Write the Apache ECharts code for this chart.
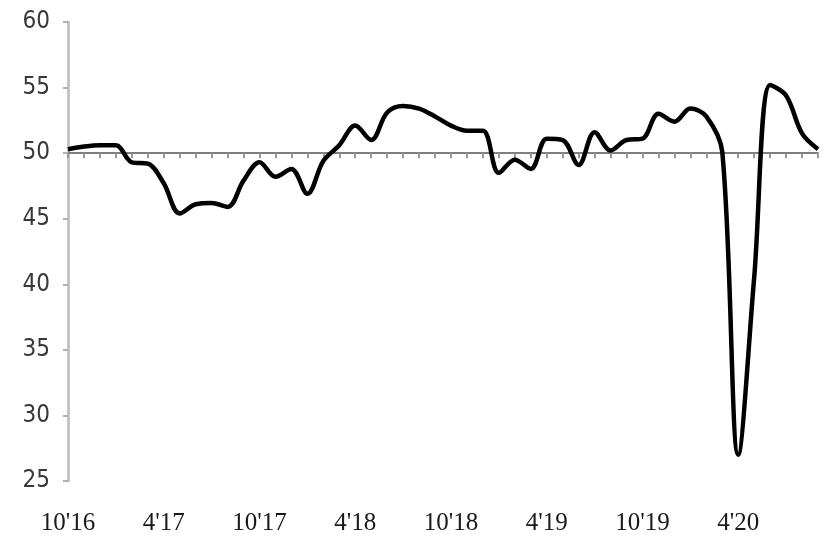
<!DOCTYPE html>
<html>
<head>
<meta charset="utf-8">
<script src="https://cdn.jsdelivr.net/npm/echarts@6/dist/echarts.min.js"></script>
<style>
html,body{margin:0;padding:0;background:#fff;}
#c{width:826px;height:542px;}
</style>
</head>
<body>
<div id="c"></div>
<script>
var categories = [
  "10'16","11'16","12'16","1'17","2'17","3'17","4'17","5'17","6'17","7'17","8'17","9'17",
  "10'17","11'17","12'17","1'18","2'18","3'18","4'18","5'18","6'18","7'18","8'18","9'18",
  "10'18","11'18","12'18","1'19","2'19","3'19","4'19","5'19","6'19","7'19","8'19","9'19",
  "10'19","11'19","12'19","1'20","2'20","3'20","4'20","5'20","6'20","7'20","8'20","9'20"
];
var values = [
  50.3, 50.5, 50.6, 50.6, 49.3, 49.2, 47.7, 45.4, 46.1, 46.2, 45.9, 47.9,
  49.3, 48.2, 48.8, 46.9, 49.4, 50.6, 52.1, 51.0, 53.1, 53.6, 53.4, 52.8,
  52.1, 51.7, 51.7, 48.5, 49.5, 48.8, 51.1, 51.0, 49.1, 51.6, 50.2, 51.0,
  51.1, 53.0, 52.4, 53.4, 52.8, 50.1, 27.0, 40.5, 55.2, 54.4, 51.5, 50.3
];
var yMin = 25, yMax = 60, yStep = 5, baseLine = 50;

var gridTop = 22, gridBottom = 61, chartH = 542;
var gridH = chartH - gridTop - gridBottom;
var baseOffset = -gridH * (baseLine - yMin) / (yMax - yMin);

var chart = echarts.init(document.getElementById('c'), null, {renderer: 'canvas'});
chart.setOption({
  animation: false,
  backgroundColor: '#ffffff',
  grid: {left: 68, right: 8, top: gridTop, bottom: gridBottom, containLabel: false},
  xAxis: [
    {
      type: 'category', data: categories, boundaryGap: false, position: 'bottom',
      axisLine: {show: false}, axisTick: {show: false},
      axisLabel: {
        interval: 5, margin: 30, color: '#1a1a1a',
        fontFamily: 'Liberation Serif', fontSize: 25
      },
      splitLine: {show: false}
    },
    {
      type: 'category', data: categories, boundaryGap: false, position: 'bottom',
      offset: baseOffset,
      axisLine: {show: true, onZero: false, lineStyle: {color: '#7f7f7f', width: 2}},
      axisTick: {show: true, interval: 0, length: 5, lineStyle: {color: '#999', width: 2}},
      axisLabel: {show: false},
      splitLine: {show: false}
    }
  ],
  yAxis: {
    type: 'value', min: yMin, max: yMax, interval: yStep,
    axisLine: {show: true, lineStyle: {color: '#c4c4c4', width: 3}},
    axisTick: {show: true, length: 5, lineStyle: {color: '#b0b0b0', width: 2}},
    axisLabel: {
      margin: 18, color: '#383838',
      fontFamily: 'Liberation Sans Narrow, DejaVu Sans Condensed, sans-serif', fontSize: 24
    },
    splitLine: {show: false}
  },
  series: [{
    type: 'line', data: values, xAxisIndex: 0,
    smooth: 0.35, symbol: 'none',
    lineStyle: {color: '#000', width: 4.5},
    z: 5
  }]
});
</script>
</body>
</html>
